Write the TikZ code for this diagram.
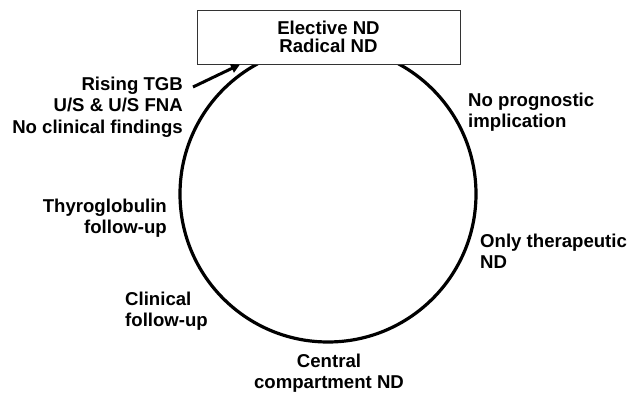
\documentclass[tikz,border=0pt]{standalone}
\usepackage{fontspec}
\setmainfont{Liberation Sans}
\usetikzlibrary{arrows.meta}
\tikzset{
  lbl/.style={inner sep=0pt, font=\fontsize{18.6}{21.6}\selectfont\bfseries},
  cyc/.style={circle, draw=black, line width=3.2pt, minimum size=296pt, inner sep=0pt},
  topbox/.style={draw=black!80, line width=0.8pt, fill=white, minimum width=263pt, minimum height=54pt, inner sep=0pt, align=center, font=\fontsize{18.6}{18.6}\selectfont\bfseries},
  arr/.style={line width=3pt, -{Triangle[length=9pt,width=9pt]}}
}
\begin{document}
\begin{tikzpicture}[x=1pt,y=-1pt]
\useasboundingbox (0,0) rectangle (633,395);
\node[cyc] (cycle) at (328,194) {};
\node[topbox] (box) at (328.5,37) {Elective ND\\Radical ND};
\coordinate (a1) at (193,87);
\coordinate (a2) at (240,64.5);
\draw[arr] (a1) -- (a2);
\node[lbl, anchor=base east, align=right] (rising) at (183,133.3) {Rising TGB\\U/S \& U/S FNA\\No clinical findings};
\node[lbl, anchor=base east, align=right] (thyro) at (167,234) {Thyroglobulin\\follow-up};
\node[lbl, anchor=base west, align=left] (clin) at (125,327) {Clinical\\follow-up};
\node[lbl, anchor=base, align=center] (central) at (329,389) {Central\\compartment ND};
\node[lbl, anchor=base west, align=left] (only) at (480,269) {Only therapeutic\\ND};
\node[lbl, anchor=base west, align=left] (nopro) at (468,128) {No prognostic\\implication};
\end{tikzpicture}
\end{document}
